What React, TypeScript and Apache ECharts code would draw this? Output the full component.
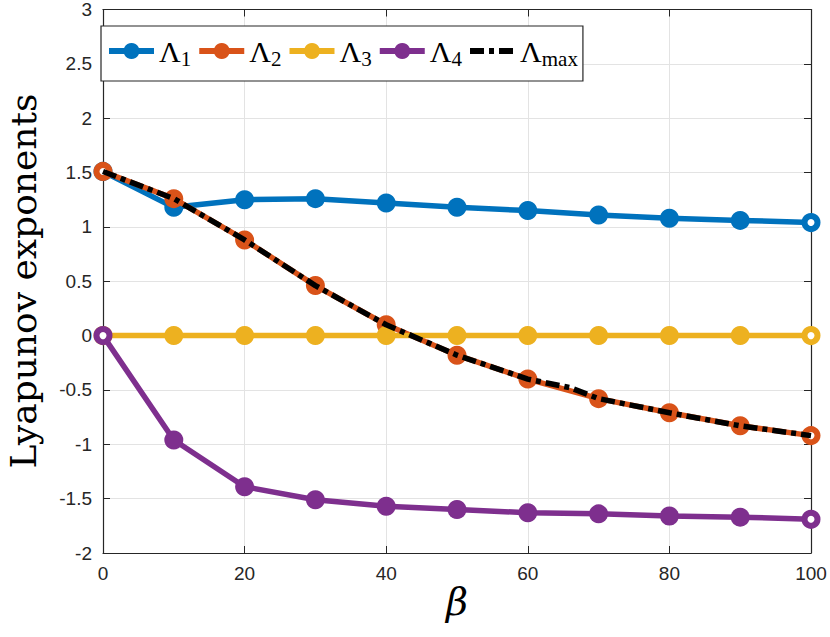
import React, { useEffect, useRef } from "react";
import * as echarts from "echarts";

const betas = [0, 10, 20, 30, 40, 50, 60, 70, 80, 90, 100];
const lambda1 = [1.51, 1.18, 1.25, 1.26, 1.22, 1.18, 1.15, 1.11, 1.08, 1.06, 1.04];
const lambda2 = [1.51, 1.26, 0.88, 0.46, 0.1, -0.18, -0.4, -0.58, -0.71, -0.83, -0.92];
const lambda3 = [0, 0, 0, 0, 0, 0, 0, 0, 0, 0, 0];
const lambda4 = [0, -0.96, -1.39, -1.51, -1.57, -1.6, -1.63, -1.64, -1.66, -1.67, -1.69];
const lambdaMaxX = [0, 10, 20, 30, 40, 50, 60, 66, 70, 80, 90, 100];
const lambdaMax = [1.51, 1.26, 0.88, 0.46, 0.1, -0.18, -0.4, -0.48, -0.58, -0.71, -0.83, -0.92];
const seriesNames = ["L1", "L2", "L3", "L4", "Lmax"];
const legendSubs: Record<string, string> = { L1: "1", L2: "2", L3: "3", L4: "4", Lmax: "max" };
const colors = ["#0072BD", "#D95319", "#EDB120", "#7E2F8E", "#000000"];

export default function App() {
  const ref = useRef<HTMLDivElement>(null);
  useEffect(() => {
    if (!ref.current) return;
    const chart = echarts.init(ref.current, null, { renderer: "svg" });
    const tickFont = { fontFamily: "Liberation Sans, Arial, sans-serif", fontSize: 19, color: "#262626" };
    const mkLine = (i: number, ys: number[]) => ({
      name: seriesNames[i],
      type: "line",
      data: betas.map((x, k) => {
        const edge = k === 0 || k === betas.length - 1;
        return edge
          ? { value: [x, ys[k]], symbolSize: 13, itemStyle: { color: "#ffffff", borderColor: colors[i], borderWidth: 6 } }
          : { value: [x, ys[k]] };
      }),
      color: colors[i],
      symbol: "circle",
      symbolSize: 19,
      lineStyle: { width: 5.5, color: colors[i] },
      itemStyle: { color: colors[i] },
      z: 2 + i,
    });
    const axisLine = { show: true, onZero: false, lineStyle: { color: "#262626", width: 1.2 } };
    const axisTick = { show: true, inside: true, length: 7, lineStyle: { color: "#262626" } };
    chart.setOption({
      animation: false,
      backgroundColor: "#ffffff",
      grid: { left: 103, right: 19, top: 8, bottom: 84, containLabel: false },
      legend: {
        left: 101,
        top: 26,
        itemWidth: 45,
        itemHeight: 20,
        itemGap: 5,
        padding: [10, 5, 12, 5],
        borderColor: "#262626",
        borderWidth: 1.2,
        backgroundColor: "#ffffff",
        lineStyle: { width: 6 },
        data: [
          { name: "L1" },
          { name: "L2" },
          { name: "L3" },
          { name: "L4" },
          { name: "Lmax", itemStyle: { color: "rgba(0,0,0,0)", borderWidth: 0 } },
        ],
        formatter: (n: string) => `{m|Λ}{s|${legendSubs[n]}}`,
        textStyle: {
          rich: {
            m: { fontFamily: "Liberation Serif, serif", fontSize: 30, color: "#000", height: 38 },
            s: { fontFamily: "Liberation Serif, serif", fontSize: 21, color: "#000", padding: [15, 0, 0, 0] },
          },
        },
      },
      xAxis: [
        {
          type: "value",
          min: 0,
          max: 100,
          interval: 20,
          position: "bottom",
          axisLine,
          axisTick,
          axisLabel: { ...tickFont, margin: 11 },
          splitLine: { show: true, lineStyle: { color: "#e3e3e3", width: 1 } },
        },
        {
          type: "value",
          min: 0,
          max: 100,
          interval: 20,
          position: "top",
          axisLine,
          axisTick,
          axisLabel: { show: false },
          splitLine: { show: false },
        },
      ],
      yAxis: [
        {
          type: "value",
          min: -2,
          max: 3,
          interval: 0.5,
          position: "left",
          axisLine,
          axisTick,
          axisLabel: { ...tickFont, margin: 11, formatter: (v: number) => `${v}` },
          splitLine: { show: true, lineStyle: { color: "#e3e3e3", width: 1 } },
        },
        {
          type: "value",
          min: -2,
          max: 3,
          interval: 0.5,
          position: "right",
          axisLine,
          axisTick,
          axisLabel: { show: false },
          splitLine: { show: false },
        },
      ],
      series: [
        mkLine(0, lambda1),
        mkLine(1, lambda2),
        mkLine(2, lambda3),
        mkLine(3, lambda4),
        {
          name: seriesNames[4],
          type: "line",
          data: lambdaMaxX.map((x, k) => [x, lambdaMax[k]]),
          color: colors[4],
          symbol: "none",
          showSymbol: false,
          lineStyle: { width: 5.5, color: "#000", type: [14, 5, 5, 5] },
          z: 10,
        },
      ],
      graphic: [
        {
          type: "text",
          x: 23,
          y: 281,
          rotation: Math.PI / 2,
          style: {
            text: "Lyapunov exponents",
            fontFamily: "DejaVu Serif, Liberation Serif, serif",
            fontSize: 36,
            fill: "#000",
            textAlign: "center",
            textVerticalAlign: "middle",
          },
        },
        {
          type: "text",
          x: 457,
          y: 602,
          style: {
            text: "β",
            fontFamily: "DejaVu Serif, Liberation Serif, serif",
            fontStyle: "italic",
            fontSize: 38,
            fill: "#000",
            textAlign: "center",
            textVerticalAlign: "middle",
          },
        },
      ],
    });
    return () => chart.dispose();
  }, []);
  return <div ref={ref} style={{ position: "fixed", left: 0, top: 0, width: 830, height: 637 }} />;
}
